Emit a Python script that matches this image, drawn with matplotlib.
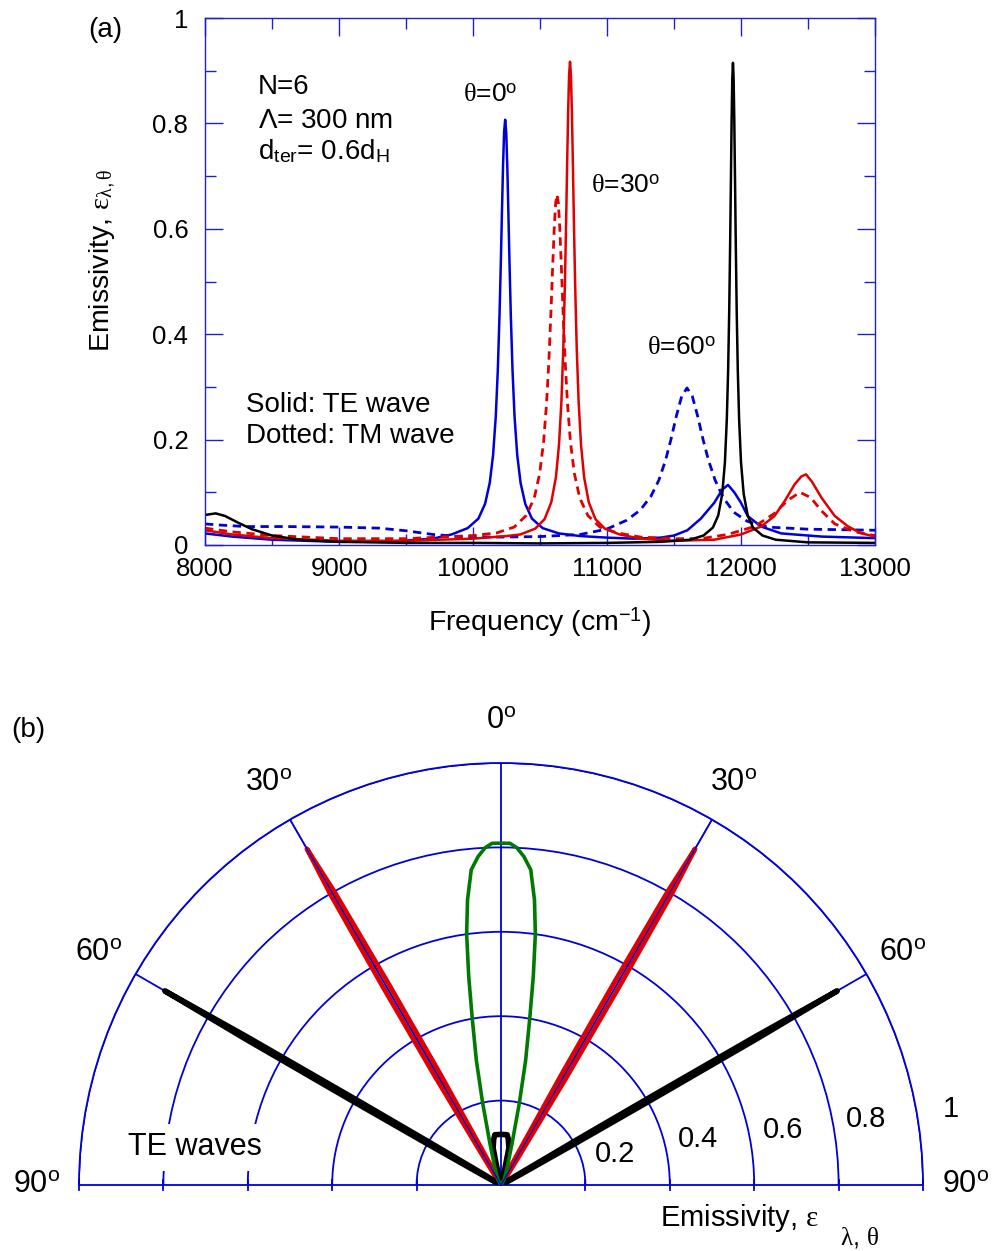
import numpy as np
import matplotlib
matplotlib.use("Agg")
from matplotlib import pyplot as plt

plt.rcParams['font.family'] = ['Liberation Sans', 'DejaVu Sans']
plt.rcParams['mathtext.fontset'] = 'custom'
plt.rcParams['mathtext.rm'] = 'Liberation Sans'
plt.rcParams['mathtext.it'] = 'Liberation Serif'
plt.rcParams['mathtext.bf'] = 'Liberation Sans:bold'

# ---------------- panel (a) data: emissivity spectra ----------------
te0_freq = [8000, 8200, 8500, 9000, 9400, 9700, 9840, 9960, 10040, 10090, 10125, 10150,
            10170, 10185, 10198, 10208, 10216, 10224, 10232, 10240, 10248, 10256, 10264,
            10272, 10282, 10295, 10310, 10330, 10355, 10390, 10440, 10520, 10640, 10800,
            11000, 11200, 11400, 11500, 11600, 11700, 11800, 11860, 11903, 11950, 12000,
            12050, 12150, 12300, 12600, 13000]
te0_emis = [0.022, 0.016, 0.010, 0.006, 0.007, 0.012, 0.02, 0.032, 0.05, 0.078, 0.118, 0.171,
            0.244, 0.331, 0.437, 0.54, 0.631, 0.718, 0.783, 0.807, 0.783, 0.718, 0.631,
            0.54, 0.437, 0.331, 0.244, 0.171, 0.118, 0.078, 0.05, 0.032, 0.022, 0.017,
            0.014, 0.012, 0.014, 0.018, 0.028, 0.05, 0.08, 0.105, 0.114, 0.10, 0.08,
            0.055, 0.035, 0.022, 0.016, 0.013]

tm60_freq = [8000, 8100, 8300, 8600, 9000, 9300, 9500, 9700, 9900, 10200, 10500, 10800,
             10997, 11147, 11247, 11327, 11387, 11437, 11477, 11517, 11557, 11597, 11637,
             11677, 11717, 11757, 11807, 11867, 11947, 12047, 12200, 12500, 13000]
tm60_emis = [0.04, 0.038, 0.035, 0.035, 0.034, 0.032, 0.027, 0.02, 0.016, 0.015, 0.016, 0.02,
             0.03, 0.047, 0.066, 0.092, 0.123, 0.161, 0.20, 0.244, 0.282, 0.298, 0.282,
             0.244, 0.20, 0.161, 0.123, 0.09, 0.062, 0.045, 0.034, 0.03, 0.028]

te30_freq = [8000, 8200, 8500, 9000, 9500, 10000, 10250, 10354, 10464, 10534, 10584, 10619,
             10642, 10660, 10674, 10686, 10695, 10703, 10710, 10717, 10724, 10731, 10738,
             10745, 10753, 10762, 10774, 10788, 10806, 10829, 10864, 10914, 10984, 11094,
             11250, 11500, 11800, 12000, 12150, 12250, 12330, 12400, 12450, 12485, 12530,
             12600, 12700, 12800, 12900, 13000]
te30_emis = [0.028, 0.02, 0.013, 0.008, 0.008, 0.012, 0.017, 0.02, 0.031, 0.049, 0.081, 0.129,
             0.191, 0.273, 0.374, 0.497, 0.614, 0.729, 0.822, 0.891, 0.917, 0.891, 0.822,
             0.729, 0.614, 0.497, 0.374, 0.273, 0.191, 0.129, 0.081, 0.049, 0.031, 0.02,
             0.012, 0.008, 0.01, 0.02, 0.035, 0.055, 0.085, 0.115, 0.13, 0.134, 0.12,
             0.09, 0.055, 0.035, 0.022, 0.016]

tm30_freq = [8000, 8200, 8500, 9000, 9500, 10000, 10177, 10307, 10397, 10457, 10497, 10527,
             10549, 10567, 10582, 10595, 10607, 10617, 10627, 10637, 10647, 10659, 10672,
             10687, 10705, 10727, 10757, 10797, 10857, 10947, 11077, 11250, 11500, 11700,
             11900, 12100, 12250, 12350, 12440, 12520, 12600, 12700, 12850, 13000]
tm30_emis = [0.032, 0.025, 0.018, 0.012, 0.012, 0.018, 0.023, 0.034, 0.056, 0.089, 0.135, 0.196,
             0.269, 0.353, 0.444, 0.531, 0.605, 0.649, 0.665, 0.649, 0.605, 0.531, 0.444,
             0.353, 0.269, 0.196, 0.135, 0.089, 0.056, 0.034, 0.023, 0.015, 0.012, 0.012,
             0.02, 0.035, 0.06, 0.085, 0.10, 0.09, 0.065, 0.04, 0.025, 0.018]

te60_freq = [8000, 8080, 8150, 8250, 8350, 8500, 8700, 9000, 9500, 10000, 10500, 11000,
             11400, 11620, 11720, 11790, 11830, 11860, 11880, 11894, 11904, 11912, 11919,
             11925, 11930, 11935, 11940, 11945, 11950, 11955, 11961, 11968, 11976, 11986,
             12000, 12020, 12050, 12090, 12160, 12260, 12500, 13000]
te60_emis = [0.057, 0.06, 0.055, 0.042, 0.03, 0.018, 0.01, 0.006, 0.004, 0.004, 0.003, 0.004,
             0.006, 0.01, 0.018, 0.033, 0.056, 0.097, 0.157, 0.238, 0.332, 0.443, 0.572,
             0.70, 0.805, 0.885, 0.915, 0.885, 0.805, 0.70, 0.572, 0.443, 0.332, 0.238,
             0.157, 0.097, 0.056, 0.033, 0.018, 0.01, 0.005, 0.004]

# ---------------- panel (b) data: emissivity vs polar angle ----------------
green_ang = [-90, -30, -20, -15, -12.6, -11.2, -9.8, -8.8, -7.8, -6.7, -5.4, -4, -2.7, -1.5, 0,
             1.5, 2.7, 4, 5.4, 6.7, 7.8, 8.8, 9.8, 11.2, 12.6, 15, 20, 30, 90]
green_emis = [0.0, 0.015, 0.04, 0.1, 0.2, 0.3, 0.4, 0.5, 0.6, 0.68, 0.75, 0.78, 0.80, 0.81, 0.81,
              0.81, 0.80, 0.78, 0.75, 0.68, 0.6, 0.5, 0.4, 0.3, 0.2, 0.1, 0.04, 0.015, 0.0]

red_ang = [-90, -40, -33, -32, -31.3, -30.8, -30.4, -30, -29.6, -29.2, -28.7, -28, -27, -20, 0,
           20, 27, 28, 28.7, 29.2, 29.6, 30, 30.4, 30.8, 31.3, 32, 33, 40, 90]
red_emis = [0.0, 0.01, 0.03, 0.08, 0.3, 0.55, 0.8, 0.92, 0.8, 0.55, 0.3, 0.08, 0.03, 0.01, 0.01,
            0.01, 0.03, 0.08, 0.3, 0.55, 0.8, 0.92, 0.8, 0.55, 0.3, 0.08, 0.03, 0.01, 0.0]

black_ang = [-90, -63, -61.6, -60.8, -60.5, -60.25, -60, -59.75, -59.5, -59.2, -58.4, -57,
             -30, -20, -12, -9, -7, 0, 7, 9, 12, 20, 30, 57, 58.4, 59.2, 59.5, 59.75, 60,
             60.25, 60.5, 60.8, 61.6, 63, 90]
black_emis = [0.0, 0.01, 0.05, 0.2, 0.4, 0.7, 0.92, 0.7, 0.4, 0.2, 0.05, 0.01,
              0.005, 0.01, 0.09, 0.11, 0.12, 0.12, 0.12, 0.11, 0.09, 0.01, 0.005, 0.01, 0.05,
              0.2, 0.4, 0.7, 0.92, 0.7, 0.4, 0.2, 0.05, 0.01, 0.0]

spoke_angles = [-60, -30, 0, 30, 60]
ring_values = [0.2, 0.4, 0.6, 0.8, 1.0]
ring_labels = ['0.2', '0.4', '0.6', '0.8', '1']
angle_labels = ['90$^{\\rm o}$', '60$^{\\rm o}$', '30$^{\\rm o}$', '0$^{\\rm o}$',
                '30$^{\\rm o}$', '60$^{\\rm o}$', '90$^{\\rm o}$']
angle_label_pos = [-90, -60, -30, 0, 30, 60, 90]

BLUE = '#0000d8'
RED = '#e00000'
FRAME = '#2020c8'

fig = plt.figure(figsize=(9.97, 12.51), dpi=100)

# ================= (a) =================
ax = fig.add_axes([205 / 997, 1 - 545 / 1251, 670 / 997, 527 / 1251])
ax.plot(te0_freq, te0_emis, color=BLUE, lw=1.8)
ax.plot(tm60_freq, tm60_emis, color=BLUE, lw=2.0, ls=(0, (3, 2)))
ax.plot(tm30_freq, tm30_emis, color=RED, lw=2.0, ls=(0, (3, 2)))
ax.plot(te30_freq, te30_emis, color=RED, lw=1.8)
ax.plot(te60_freq, te60_emis, color='black', lw=1.8)

ax.set_xlim(8000, 13000)
ax.set_ylim(0, 1)
ax.set_xticks([8000, 9000, 10000, 11000, 12000, 13000])
ax.set_xticks(np.arange(8000, 13001, 500), minor=True)
ax.set_yticks([0, 0.2, 0.4, 0.6, 0.8, 1.0])
ax.set_yticklabels(['0', '0.2', '0.4', '0.6', '0.8', '1'])
ax.set_yticks(np.arange(0, 1.01, 0.1), minor=True)
ax.tick_params(axis='both', which='both', direction='in', top=True, right=True,
               color=FRAME, labelsize=18.5)
ax.tick_params(axis='y', pad=12)
ax.tick_params(axis='x', pad=9)
ax.tick_params(which='major', length=13, width=1)
ax.tick_params(which='minor', length=8, width=1)
for s in ax.spines.values():
    s.set_color(FRAME)
    s.set_linewidth(1.0)

ax.set_xlabel('Frequency (cm$^{-1}$)', fontsize=20.5, va='center')
ax.xaxis.set_label_coords(0.5, -0.146)
ax.set_ylabel('Emissivity, $\\varepsilon_{\\lambda,\\theta}$', fontsize=20.5, va='center')
ax.yaxis.set_label_coords(-0.152, 0.54)

ax.text(8396, 0.856, 'N=6', fontsize=20, va='baseline')
ax.text(8396, 0.791, '$\\Lambda$= 300 nm', fontsize=20, va='baseline')
ax.text(8396, 0.732, 'd$_{\\rm ter}$= 0.6d$_{\\rm H}$', fontsize=20, va='baseline')
ax.text(8306, 0.252, 'Solid: TE wave', fontsize=20, va='baseline')
ax.text(8306, 0.1935, 'Dotted: TM wave', fontsize=20, va='baseline')
ax.text(9925, 0.841, '$\\theta$=0$^{\\rm o}$', fontsize=19, va='baseline')
ax.text(10881, 0.668, '$\\theta$=30$^{\\rm o}$', fontsize=19, va='baseline')
ax.text(11299, 0.36, '$\\theta$=60$^{\\rm o}$', fontsize=19, va='baseline')

fig.text(105 / 997, 1 - 30 / 1251, '(a)', fontsize=20, ha='center', va='center')

# ================= (b) =================
# polar wedge is fitted inside a square box; centre ends up at x=501, y=1185 px
axb = fig.add_axes([79 / 997, 1 - 1396 / 1251, 844 / 997, 844 / 1251], projection='polar')
axb.set_theta_zero_location('N')
axb.set_theta_direction(-1)
axb.set_thetamin(-90)
axb.set_thetamax(90)
axb.set_ylim(0, 1)
axb.set_yticks(ring_values)
axb.set_yticklabels([])
axb.set_xticks(np.deg2rad(spoke_angles))
axb.set_xticklabels([])
axb.grid(True, color=BLUE, lw=1.3)
axb.tick_params(axis='both', length=0)
for s in axb.spines.values():
    s.set_color(BLUE)
    s.set_linewidth(1.3)

# short tick marks across the baseline at each ring
tick_half = 0.012
for rv in ring_values:
    d = np.rad2deg(tick_half / rv)
    for side in (-90, 90):
        axb.plot(np.deg2rad([side - d, side + d]), [rv, rv], color=BLUE, lw=1.3,
                 clip_on=False, zorder=2)

axb.plot(np.deg2rad(red_ang), red_emis, color=RED, lw=3.4, zorder=3)
axb.plot(np.deg2rad(black_ang), black_emis, color='black', lw=4.0, zorder=3)
axb.plot(np.deg2rad(green_ang), green_emis, color='#007a00', lw=2.6, zorder=4)
for a in [-30, 30]:
    axb.plot(np.deg2rad([a, a]), [0, 1], color=BLUE, lw=0.9, zorder=5)

for a, lab in zip(angle_label_pos, angle_labels):
    axb.text(np.deg2rad(a), 1.10, lab, fontsize=22, ha='center', va='center')

rlab_ang = [74.7, 77, 79, 79.7, 80.4]
for rv, lab, a in zip(ring_values, ring_labels, rlab_ang):
    axb.text(np.deg2rad(a), rv + 0.08, lab, fontsize=21, ha='center', va='center')

axb.text(np.deg2rad(-83), 0.73, 'TE waves', fontsize=22, ha='center', va='center', zorder=6,
         bbox=dict(facecolor='white', edgecolor='none', pad=6))

fig.text(660 / 997, 1 - 1218 / 1251, 'Emissivity, $\\varepsilon$',
         fontsize=21, ha='left', va='center')
fig.text(840 / 997, 1 - 1238 / 1251, '$\\lambda$, $\\theta$',
         fontsize=18, ha='left', va='center')
fig.text(28 / 997, 1 - 730 / 1251, '(b)', fontsize=20, ha='center', va='center')

fig.savefig('out.png', dpi=100)
